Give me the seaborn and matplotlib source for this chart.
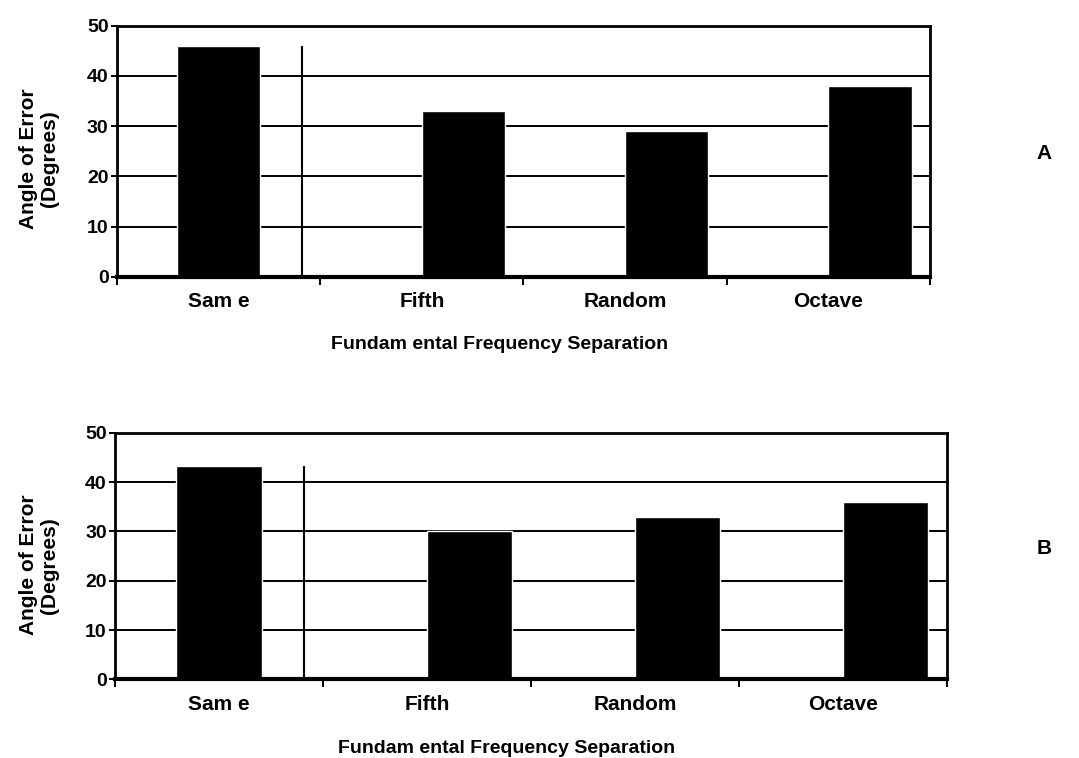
import pandas as pd
import matplotlib
matplotlib.use("Agg")
import matplotlib.pyplot as plt
import seaborn as sns

# Data
categories = ["Same", "Fifth", "Random", "Octave"]
tick_labels = ["Sam e", "Fifth", "Random", "Octave"]
panel_a = [46, 33, 29, 38]
panel_b = [43.3, 30, 33, 36]
panel_names = ["A", "B"]
yticks = [0, 10, 20, 30, 40, 50]

sns.set_style("white")
plt.rcParams['font.family'] = ['Liberation Sans', 'DejaVu Sans']
plt.rcParams['font.weight'] = 'bold'
for key in ["text.color", "axes.labelcolor", "xtick.color", "ytick.color"]:
    plt.rcParams[key] = "black"

FS_TICK = 15
FS_Y = 14
FS_LABEL = 15
FS_TITLE = 14


def draw_panel(ax, values, xlab_pos, ylab_pos):
    """One bar panel: Same bar centred, the others pushed right"""
    df = pd.DataFrame({"sep": categories, "angle": values,
                       "slot": ["left"] + ["right"] * (len(categories) - 1)})

    # gridlines behind the bars
    ax.set_axisbelow(True)
    for y in yticks[1:-1]:
        ax.axhline(y, color="black", lw=1.4, zorder=0)

    sns.barplot(data=df.iloc[:1], x="sep", y="angle", order=categories,
                color="black", width=0.41, errorbar=None, saturation=1,
                ax=ax, zorder=2)
    sns.barplot(data=df.iloc[1:], x="sep", y="angle", order=categories,
                hue="slot", hue_order=["left", "right"],
                palette={"left": "black", "right": "black"}, dodge=True,
                width=0.82, errorbar=None, saturation=1, legend=False,
                ax=ax, zorder=2)

    # separator after the "Same" column
    ax.vlines(0.41, 0, values[0], color="black", lw=1.5, zorder=3)

    ax.set_xlim(-0.5, len(categories) - 0.5)
    ax.set_ylim(0, 50)
    ax.set_yticks(yticks)
    ax.set_yticklabels([str(t) for t in yticks], fontsize=FS_Y, fontweight="bold")

    # tick marks on category boundaries, labels on centres
    ax.set_xticks([i - 0.5 for i in range(len(categories) + 1)])
    ax.set_xticklabels([])
    ax.set_xticks(range(len(categories)), minor=True)
    ax.set_xticklabels(tick_labels, minor=True, fontsize=FS_TICK, fontweight="bold")
    ax.tick_params(axis="x", which="major", direction="out", length=6,
                   width=1.4, color="black", bottom=True)
    ax.tick_params(axis="x", which="minor", length=0, pad=11)
    ax.tick_params(axis="y", direction="out", length=4, width=1.4,
                   color="black", left=True, pad=2)

    for side in ["top", "right", "left"]:
        ax.spines[side].set_visible(True)
        ax.spines[side].set_color("black")
        ax.spines[side].set_linewidth(2)
    ax.spines["bottom"].set_color("black")
    ax.spines["bottom"].set_linewidth(3)

    ax.set_xlabel("Fundam ental Frequency Separation", fontsize=FS_TITLE,
                  fontweight="bold")
    ax.xaxis.set_label_coords(*xlab_pos)
    ax.xaxis.label.set_va("center")
    ax.set_ylabel("Angle of Error\n(Degrees)", fontsize=FS_LABEL,
                  fontweight="bold", linespacing=1.15)
    ax.yaxis.set_label_coords(*ylab_pos)


fig = plt.figure(figsize=(10.79, 7.58), dpi=100)
ax_a = fig.add_axes([0.1084, 0.6346, 0.7535, 0.3315])
ax_b = fig.add_axes([0.1066, 0.1038, 0.7711, 0.3253])

draw_panel(ax_a, panel_a, (0.471, -0.27), (-0.071, 0.47))
draw_panel(ax_b, panel_b, (0.47, -0.279), (-0.067, 0.463))

fig.text(0.968, 0.798, panel_names[0], fontsize=FS_LABEL, fontweight="bold",
         ha="center", va="center")
fig.text(0.968, 0.276, panel_names[1], fontsize=FS_LABEL, fontweight="bold",
         ha="center", va="center")

fig.savefig("out.png", dpi=100, facecolor="white")
